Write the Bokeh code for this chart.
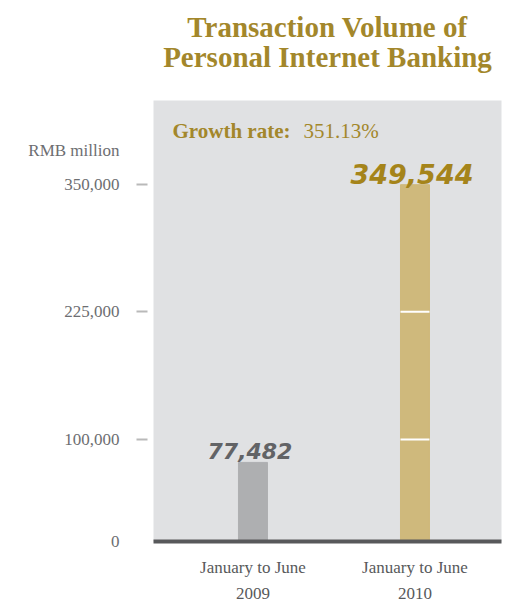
from bokeh.plotting import figure
from bokeh.models import (ColumnDataSource, FixedTicker, NumeralTickFormatter, Label,
                          Range1d, LinearAxis, Title)
from bokeh.core.properties import value
from bokeh.embed import file_html
from bokeh.resources import INLINE

# ---- data ----
periods = ["January to June\n2009", "January to June\n2010"]
volumes = [77482, 349544]
value_labels = ["77,482", "349,544"]
y_ticks = [0, 100000, 225000, 350000]
title_lines = ["Transaction Volume of", "Personal Internet Banking"]
unit_label = "RMB million"
growth_label = "Growth rate:"
growth_value = "351.13%"

# ---- styles / layout constants ----
bar_colors = ["#aeafb1", "#cfb97c"]
label_colors = ["#626366", "#a5841a"]
label_sizes = ["22px", "27px"]
gold = "#a3872b"
grey_text = "#6d6e71"
serif = "Liberation Serif"
bar_width = 0.179
unit_label_pos = 383000   # vertical spot of the unit caption above the top tick

xs = list(range(len(periods)))
src = ColumnDataSource(dict(x=xs, top=volumes, label=value_labels,
                            color=bar_colors, lcolor=label_colors, lsize=label_sizes))

p = figure(width=520, height=606, output_backend="svg", toolbar_location=None,
           x_range=Range1d(-0.614, 1.534), y_range=Range1d(0, 432000),
           min_border_left=153, min_border_right=19, min_border_top=100,
           min_border_bottom=65, title=title_lines[0])

def style_title(t):
    t.align = "center"
    t.text_font = serif
    t.text_font_style = "bold"
    t.text_font_size = "29px"
    t.text_color = gold

style_title(p.title)
p.title.standoff = -64
t2 = Title(text=title_lines[1], standoff=56)
style_title(t2)
p.add_layout(t2, "above")

p.background_fill_color = "#e0e1e3"
p.border_fill_color = "white"
p.outline_line_color = None
p.xgrid.grid_line_color = None
p.ygrid.grid_line_color = None

p.vbar(x="x", top="top", bottom=0, width=bar_width, color="color", source=src)

# white separators across bars at tick levels
sx0, sx1, sy = [], [], []
for xi, v in zip(xs, volumes):
    for t in y_ticks:
        if 0 < t < v:
            sx0.append(xi - bar_width / 2)
            sx1.append(xi + bar_width / 2)
            sy.append(t)
p.segment(x0=sx0, x1=sx1, y0=sy, y1=sy, line_color="white", line_width=2)

p.text(x="x", y="top", text="label", text_color="lcolor", text_font_size="lsize",
       text_align="center", text_baseline="alphabetic", y_offset=-11, x_offset=-3,
       text_font=value("DejaVu Sans"), text_font_style="bold italic", source=src)

# inner y axis: only the short detached tick dashes (no dash at zero)
dash_ticks = [t for t in y_ticks if t > 0]
ya = p.yaxis[0]
ya.ticker = FixedTicker(ticks=dash_ticks)
ya.major_label_overrides = {t: "" for t in dash_ticks}
ya.major_label_standoff = 0
ya.axis_line_color = None
ya.major_tick_in = -6
ya.major_tick_out = 17
ya.major_tick_line_color = "#b9b9b9"
ya.major_tick_line_width = 2
ya.minor_tick_line_color = None

# outer y axis: the tick labels plus the unit caption
lab_ticks = y_ticks + [unit_label_pos]
yl = LinearAxis(ticker=FixedTicker(ticks=lab_ticks),
                formatter=NumeralTickFormatter(format="0,0"),
                major_label_overrides={unit_label_pos: unit_label})
yl.axis_line_color = None
yl.major_tick_line_color = None
yl.minor_tick_line_color = None
yl.major_tick_in = 0
yl.major_tick_out = 0
yl.major_label_standoff = 17
yl.major_label_text_font = serif
yl.major_label_text_font_size = "17px"
yl.major_label_text_color = grey_text
p.add_layout(yl, "left")

# x axis
p.xaxis.ticker = FixedTicker(ticks=xs)
p.xaxis.major_label_overrides = {i: s for i, s in zip(xs, periods)}
p.xaxis.major_tick_line_color = None
p.xaxis.major_tick_in = 0
p.xaxis.major_tick_out = 0
p.xaxis.minor_tick_line_color = None
p.xaxis.axis_line_color = "#58595b"
p.xaxis.axis_line_width = 4
p.xaxis.major_label_standoff = 16
p.xaxis.major_label_text_font = serif
p.xaxis.major_label_text_font_size = "17px"
p.xaxis.major_label_text_color = "#58595b"
p.xaxis.major_label_text_line_height = 1.42

p.add_layout(Label(x=19, y=411, x_units="screen", y_units="screen", text=growth_label,
                   text_font=serif, text_font_size="21px", text_font_style="bold",
                   text_color=gold, text_baseline="alphabetic"))
p.add_layout(Label(x=150, y=411, x_units="screen", y_units="screen", text=growth_value,
                   text_font=serif, text_font_size="21px",
                   text_color=gold, text_baseline="alphabetic"))

open("out.html", "w").write(file_html(p, INLINE))
